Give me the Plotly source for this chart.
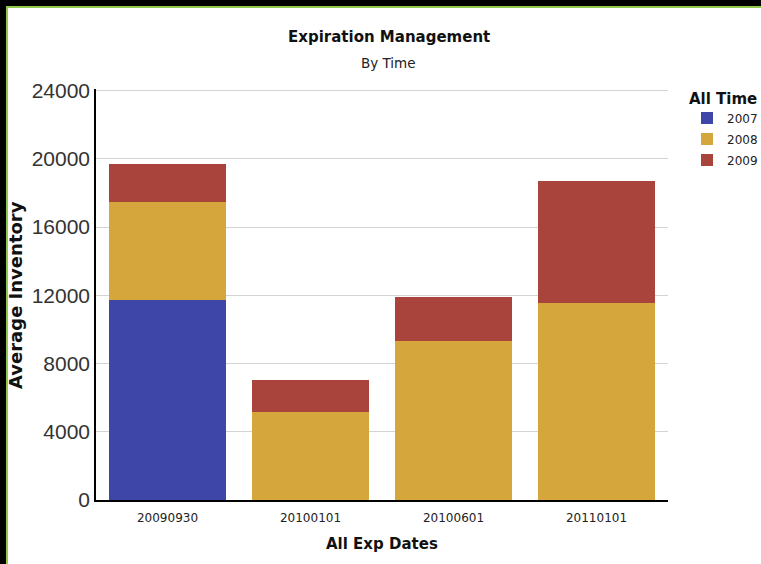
import plotly.graph_objects as go

categories = ["20090930", "20100101", "20100601", "20110101"]
series_names = ["2007", "2008", "2009"]
v2007 = [11700, 0, 0, 0]
v2008 = [5800, 5150, 9350, 11550]
v2009 = [2200, 1900, 2550, 7150]
y_ticks = [0, 4000, 8000, 12000, 16000, 20000, 24000]

colors = ["#3E47A8", "#D5A63C", "#A8443C"]

W, H = 761, 564
L, R, T, B = 96, 93, 89, 64
PW, PH = W - L - R, H - T - B

def px(x):
    return (x - L) / PW

def py(y):
    return (H - B - y) / PH

fig = go.Figure()
for name, vals, c in zip(series_names, [v2007, v2008, v2009], colors):
    fig.add_trace(go.Bar(x=categories, y=vals, name=name, legendgroup=name,
                         marker=dict(color=c, line=dict(width=0))))

fig.update_layout(
    width=W, height=H,
    margin=dict(l=L, r=R, t=T, b=B, pad=0, autoexpand=False),
    barmode="stack", bargap=0.187,
    paper_bgcolor="black", plot_bgcolor="white",
    showlegend=True,
    legend=dict(
        xref="container", yref="container",
        x=687 / W, y=1 - 84 / H, xanchor="left", yanchor="top",
        traceorder="grouped", tracegroupgap=2,
        title=dict(text="<b>All Time</b>", font=dict(family="DejaVu Sans", size=15, color="#111")),
        font=dict(family="DejaVu Sans", size=12, color="#222"),
        bgcolor="rgba(0,0,0,0)", itemwidth=30,
    ),
    shapes=[
        dict(type="rect", xref="paper", yref="paper",
             x0=px(7), x1=px(790), y0=py(7), y1=py(600),
             fillcolor="white", line=dict(color="#93C84E", width=2), layer="below"),
    ],
    annotations=[
        dict(text="<b>Expiration Management</b>", xref="paper", yref="paper",
             x=px(389), y=py(37), showarrow=False, xanchor="center", yanchor="middle",
             font=dict(family="DejaVu Sans", size=15, color="#111")),
        dict(text="By Time", xref="paper", yref="paper",
             x=px(388), y=py(63), showarrow=False, xanchor="center", yanchor="middle",
             font=dict(family="DejaVu Sans", size=13.5, color="#222")),
        dict(text="<b>Average Inventory</b>", xref="paper", yref="paper",
             x=px(15), y=py(295), showarrow=False, xanchor="center", yanchor="middle",
             textangle=-90, font=dict(family="DejaVu Sans", size=18, color="#111")),
        dict(text="<b>All Exp Dates</b>", xref="paper", yref="paper",
             x=px(382), y=py(544), showarrow=False, xanchor="center", yanchor="middle",
             font=dict(family="DejaVu Sans", size=15, color="#111")),
    ],
)

fig.update_xaxes(
    type="category", showline=True, linecolor="black", linewidth=2,
    layer="below traces", showgrid=False, ticks="", ticklabelstandoff=6,
    tickfont=dict(family="DejaVu Sans", size=12, color="#222"),
)
fig.update_yaxes(
    range=[0, 24100], tickvals=y_ticks, ticktext=[str(v) for v in y_ticks],
    showline=True, linecolor="black", linewidth=1.5,
    showgrid=True, gridcolor="#D3D3D3", gridwidth=1, zeroline=False,
    ticks="", ticklabelstandoff=0,
    tickfont=dict(family="Liberation Sans", size=21, color="#333"),
)

fig.write_html("out.html", config={"displayModeBar": False},
               post_script="document.body.style.margin='0';document.body.style.padding='0';document.body.style.overflow='hidden';")
